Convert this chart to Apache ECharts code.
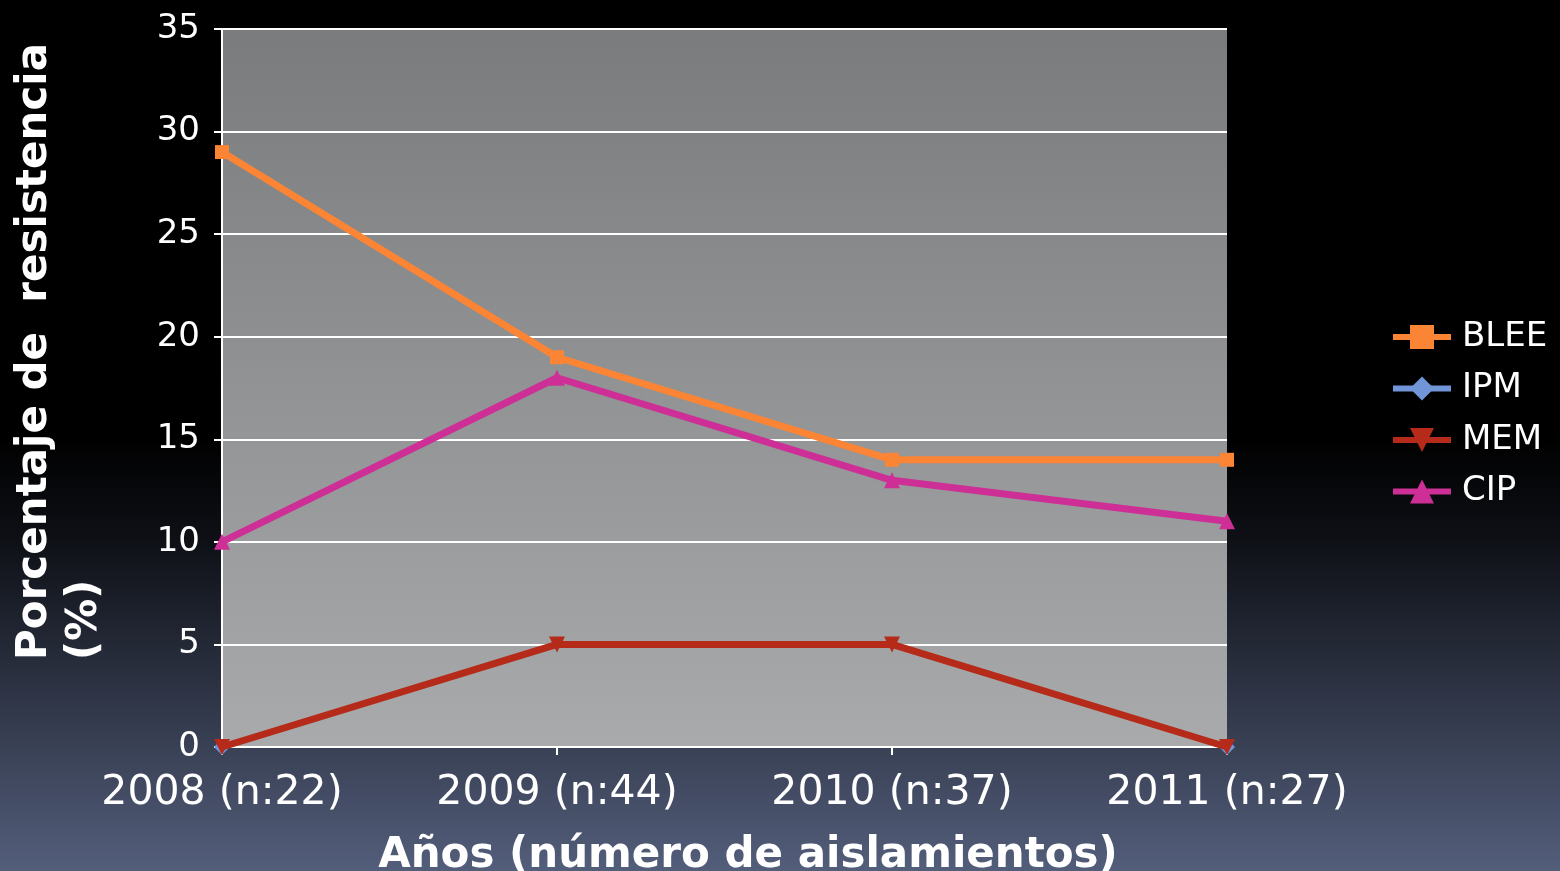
<!DOCTYPE html>
<html>
<head>
<meta charset="utf-8">
<script src="https://cdn.jsdelivr.net/npm/echarts@6/dist/echarts.min.js"></script>
<style>html,body{margin:0;padding:0;background:#000;}#c{width:1560px;height:871px;}</style>
</head>
<body>
<div id="c"></div>
<script>
var categories = ['2008 (n:22)', '2009 (n:44)', '2010 (n:37)', '2011 (n:27)'];
var bleeValues = [29, 19, 14, 14];
var ipmValues = [0, null, null, 0];
var memValues = [0, 5, 5, 0];
var cipValues = [10, 18, 13, 11];
var yTickValues = [0, 5, 10, 15, 20, 25, 30, 35];

var FONT = 'DejaVu Sans';
var chart = echarts.init(document.getElementById('c'), null, {renderer: 'canvas'});

function lineSeries(name, data, color, symbol, size, z) {
  return {
    name: name, type: 'line', data: data, z: z,
    symbol: symbol, symbolSize: size, showSymbol: true,
    connectNulls: false,
    lineStyle: {color: color, width: 7},
    itemStyle: {color: color},
    emphasis: {disabled: true},
    animation: false
  };
}

var option = {
  animation: false,
  backgroundColor: new echarts.graphic.LinearGradient(0, 0, 0, 1, [
    {offset: 0, color: '#000000'},
    {offset: 0.5, color: '#000000'},
    {offset: 0.62, color: '#0e1016'},
    {offset: 1, color: '#535e7b'}
  ]),
  grid: {
    left: 222, right: 333, top: 29, bottom: 124,
    outerBoundsMode: 'none',
    containLabel: false,
    show: true, borderWidth: 0,
    backgroundColor: new echarts.graphic.LinearGradient(0, 0, 0, 1, [
      {offset: 0, color: '#7a7b7d'},
      {offset: 1, color: '#a9aaab'}
    ])
  },
  legend: {
    orient: 'vertical',
    left: 1390, top: 319, padding: 0,
    itemWidth: 58, itemHeight: 30, itemGap: 15.5,
    lineStyle: {width: 6},
    textStyle: {color: '#ffffff', fontSize: 34, fontFamily: FONT, lineHeight: 36, padding: [0, 0, 0, 6]},
    data: ['BLEE', 'IPM', 'MEM', 'CIP']
  },
  xAxis: {
    type: 'category',
    data: categories,
    boundaryGap: false,
    axisLine: {show: true, lineStyle: {color: '#ffffff', width: 2}},
    axisTick: {show: true, alignWithLabel: true, length: 8, lineStyle: {color: '#ffffff', width: 2}},
    axisLabel: {color: '#ffffff', fontSize: 41, fontFamily: FONT, margin: 26},
    splitLine: {show: false}
  },
  yAxis: {
    type: 'value',
    min: 0, max: 35, interval: 5,
    axisLine: {show: true, lineStyle: {color: '#ffffff', width: 2}},
    axisTick: {show: true, length: 8, lineStyle: {color: '#ffffff', width: 2}},
    axisLabel: {
      color: '#ffffff', fontSize: 34, fontFamily: FONT, margin: 22, padding: [4, 0, 0, 0],
      formatter: function (v) { return yTickValues.indexOf(v) >= 0 ? String(v) : ''; }
    },
    splitLine: {show: true, lineStyle: {color: '#ffffff', width: 2}}
  },
  graphic: [
    {
      type: 'text', x: 35, y: 660, rotation: Math.PI / 2,
      style: {text: 'Porcentaje de  resistencia', fill: '#ffffff', font: 'bold 42px "DejaVu Sans"', align: 'left', verticalAlign: 'middle'}
    },
    {
      type: 'text', x: 85, y: 660, rotation: Math.PI / 2,
      style: {text: '(%)', fill: '#ffffff', font: 'bold 42px "DejaVu Sans"', align: 'left', verticalAlign: 'middle'}
    },
    {
      type: 'text', x: 748, y: 856,
      style: {text: 'Años (número de aislamientos)', fill: '#ffffff', font: 'bold 42px "DejaVu Sans"', align: 'center', verticalAlign: 'middle'}
    }
  ],
  series: [
    lineSeries('BLEE', bleeValues, '#fb8535', 'rect', 14, 3),
    lineSeries('IPM', ipmValues, '#7096d8', 'diamond', 16, 2),
    lineSeries('MEM', memValues, '#b52a18', 'path://M0,0 L10,0 L5,9 Z', 16, 4),
    lineSeries('CIP', cipValues, '#ce2f96', 'triangle', 16, 5)
  ]
};
chart.setOption(option);
</script>
</body>
</html>
